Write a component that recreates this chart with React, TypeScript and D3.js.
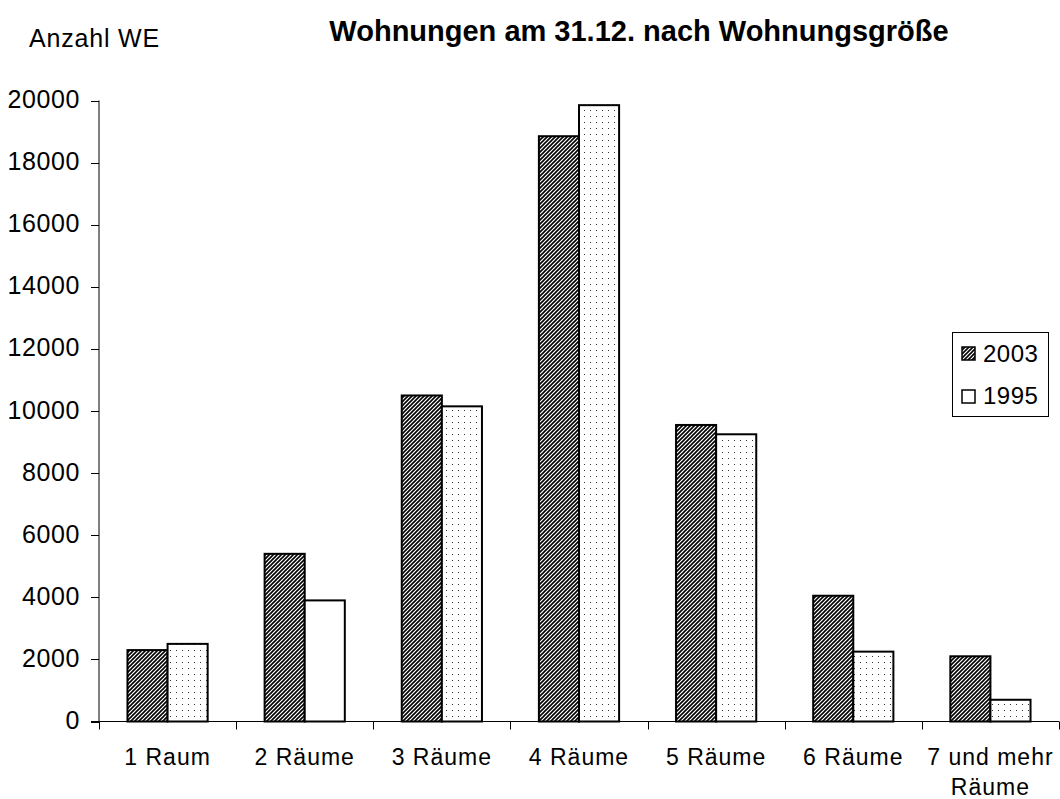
import React from "react";
import * as d3 from "d3";

const categories = ["1 Raum", "2 Räume", "3 Räume", "4 Räume", "5 Räume", "6 Räume", "7 und mehr Räume"];
const categoryLines = [["1 Raum"], ["2 Räume"], ["3 Räume"], ["4 Räume"], ["5 Räume"], ["6 Räume"], ["7 und mehr", "Räume"]];
const series2003 = [2300, 5400, 10500, 18850, 9550, 4050, 2100];
const series1995 = [2500, 3900, 10150, 19850, 9250, 2250, 700];
const seriesNames = ["2003", "1995"];
const plain1995 = ["2 Räume"];
const yTicks = [0, 2000, 4000, 6000, 8000, 10000, 12000, 14000, 16000, 18000, 20000];

const W = 1060;
const H = 799;
const plotLeft = 99;
const plotRight = 1059;
const plotTop = 100.5;
const plotBottom = 721.5;
const font = "Arial, 'Liberation Sans', Helvetica, sans-serif";

export default function App() {
  const x = d3.scaleBand<string>().domain(categories).range([plotLeft, plotRight]).paddingInner(0).paddingOuter(0);
  const sub = d3.scaleBand<string>().domain(seriesNames).range([0, x.bandwidth()]).paddingInner(0).paddingOuter(0.71);
  const y = d3.scaleLinear().domain([0, 20000]).range([plotBottom, plotTop]);
  const bounds = categories.map((c) => x(c) as number).concat([plotRight]);

  return (
    <svg width={W} height={H} style={{ position: "absolute", left: 0, top: 0, background: "#fff" }} fontFamily={font}>
      <defs>
        <pattern id="hatch" width="4" height="4" patternUnits="userSpaceOnUse">
          <rect width="4" height="4" fill="#fff" />
          <path d="M-1,1 L1,-1 M0,4 L4,0 M3,5 L5,3" stroke="#000" strokeWidth="1.6" />
        </pattern>
        <pattern id="dots" width="6" height="6" patternUnits="userSpaceOnUse">
          <rect width="6" height="6" fill="#fff" />
          <rect x="2" y="2" width="1" height="1" fill="#333" />
        </pattern>
      </defs>
      <rect width={W} height={H} fill="#fff" />

      <text x={639} y={41} textAnchor="middle" fontWeight="bold" fontSize={29}>
        Wohnungen am 31.12. nach Wohnungsgröße
      </text>
      <text x={29} y={47} fontSize={25} letterSpacing={0.8}>Anzahl WE</text>

      {/* y axis */}
      <line x1={plotLeft} x2={plotLeft} y1={plotTop} y2={plotBottom} stroke="#000" strokeWidth={1} />
      {yTicks.map((t) => (
        <g key={t}>
          <line x1={plotLeft - 8} x2={plotLeft} y1={Math.round(y(t)) + 0.5} y2={Math.round(y(t)) + 0.5} stroke="#000" />
          <text x={80} y={y(t) + 7.5} textAnchor="end" fontSize={25} letterSpacing={0.6}>{t}</text>
        </g>
      ))}

      {/* bars */}
      {categories.map((c, i) => {
        const bx = x(c) as number;
        const x1 = bx + (sub("2003") as number);
        const x2 = bx + (sub("1995") as number);
        const bw = sub.bandwidth();
        return (
          <g key={c}>
            <rect x={x1} y={y(series2003[i])} width={bw} height={plotBottom - y(series2003[i])} fill="url(#hatch)" stroke="#000" strokeWidth={2} />
            <rect x={x2} y={y(series1995[i])} width={bw} height={plotBottom - y(series1995[i])} fill={plain1995.includes(c) ? "#fff" : "url(#dots)"} stroke="#000" strokeWidth={2} />
          </g>
        );
      })}

      {/* x axis */}
      <line x1={plotLeft - 8} x2={plotRight} y1={plotBottom} y2={plotBottom} stroke="#000" />
      {bounds.map((b, i) => (
        <line key={i} x1={Math.round(b) + 0.5} x2={Math.round(b) + 0.5} y1={plotBottom} y2={plotBottom + 8} stroke="#000" />
      ))}
      {categories.map((c, i) => (
        <text key={c} x={(x(c) as number) + x.bandwidth() / 2} y={765} textAnchor="middle" fontSize={23} letterSpacing={1}>
          {categoryLines[i].map((ln, j) => (
            <tspan key={j} x={(x(c) as number) + x.bandwidth() / 2} dy={j === 0 ? 0 : 30}>{ln}</tspan>
          ))}
        </text>
      ))}

      {/* legend */}
      <rect x={952.5} y={332.5} width={96} height={84} fill="#fff" stroke="#000" strokeWidth={1} />
      <rect x={962} y={347} width={13} height={13} fill="url(#hatch)" stroke="#000" strokeWidth={1.5} />
      <text x={983} y={362} fontSize={24} letterSpacing={0.5}>{seriesNames[0]}</text>
      <rect x={962} y={390} width={13} height={13} fill="#fff" stroke="#000" strokeWidth={1.5} />
      <text x={983} y={404} fontSize={24} letterSpacing={0.5}>{seriesNames[1]}</text>
    </svg>
  );
}
